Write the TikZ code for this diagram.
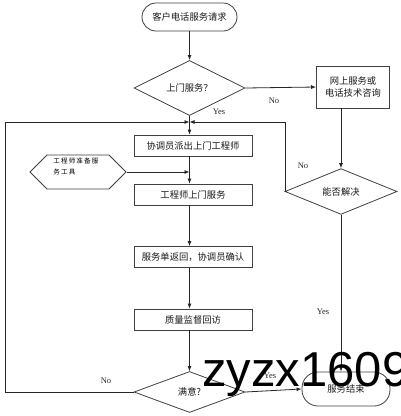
\documentclass[tikz,border=0pt]{standalone}
\usepackage{fontspec}
\newfontfamily\cjk{Noto Sans CJK SC}
\newfontfamily\lab{Liberation Serif}
\newfontfamily\wm{Liberation Sans}
\usetikzlibrary{shapes.geometric,shapes.symbols,arrows.meta}
\begin{document}
\begin{tikzpicture}[x=1pt,y=-1pt,
  line width=0.8pt,
  every node/.style={inner sep=0pt},
  ln/.style={draw=black!85},
  arr/.style={ln,-{Latex[length=5pt,width=4pt]}},
  txt/.style={font=\cjk\fontsize{9.3}{11.5}\selectfont, text=black!90},
  term/.style={txt,draw=black!75,rectangle,minimum width=95pt,minimum height=28pt,rounded corners=14pt},
  procbox/.style={txt,draw=black!75,rectangle,minimum width=118pt,minimum height=21pt},
  decis/.style={txt,draw=black!75,diamond,minimum width=111pt,minimum height=41pt},
  yn/.style={font=\lab\fontsize{8.5}{10}\selectfont, text=black!85}
]
\useasboundingbox (0,0) rectangle (400,416);
\fill[white] (0,0) rectangle (400,416);

\node[term] (start) at (189.5,17) {客户电话服务请求};
\node[decis] (d1) at (189.5,88) {上门服务？};
\node[txt,draw=black!75,minimum width=73pt,minimum height=42pt,align=center] (net) at (353,87) {网上服务或\\电话技术咨询};
\node[procbox] (b1) at (193,145.5) {协调员派出上门工程师};
\node[draw=black!75,signal,signal to=west and east,signal pointer angle=90,minimum width=96pt,minimum height=34pt] (hex) at (78,172) {};
\node[font=\cjk\fontsize{6.6}{11}\selectfont,align=left,anchor=north west] (hext) at (53,157.5) {工\,程\,师\,准\,备\,服\\务\,工\,具};
\node[procbox] (b2) at (193,194.5) {工程师上门服务};
\node[procbox] (b3) at (193,257) {服务单返回，协调员确认};
\node[procbox] (b4) at (193,319.5) {质量监督回访};
\node[decis] (d3) at (189.5,392) {满意?};
\node[decis,minimum width=112pt] (d2) at (341,191.5) {能否解决};
\node[term,minimum width=88pt,minimum height=34pt,rounded corners=16pt] (end) at (346,389) {服务结束};

\coordinate (J) at (189.5,122);
\coordinate (L1) at (5,392);
\coordinate (L2) at (5,122);
\coordinate (R1) at (285,191.5);
\coordinate (R2) at (285,122);

\draw[arr] (start) -- (d1);
\draw[arr] (d1.east) -- (net.west);
\draw[ln] (d1.south) -- (J);
\draw[arr] (J) -- (J |- b1.north);
\draw[arr] (L1) -- (L2) -- (J);
\draw[ln] (d3.west) -- (L1);
\draw[ln] (d2.west) -- (R1) -- (R2);
\draw[arr] (R2) -- (J);
\draw[arr] (d2.north |- net.south) -- (d2.north);
\draw[arr] (d2.south) -- (d2.south |- end.north);
\draw[arr] (J |- b1.south) -- (J |- b2.north);
\draw[arr] (hex.east) -- (hex.east -| J);
\draw[arr] (J |- b2.south) -- (J |- b3.north);
\draw[arr] (J |- b3.south) -- (J |- b4.north);
\draw[arr] (J |- b4.south) -- (d3.north);
\draw[arr] (d3.east) -- (end.west);

\node[yn] (no1) at (274,101) {No};
\node[yn] (yes1) at (219,112) {Yes};
\node[yn] (no2) at (303,166) {No};
\node[yn] (yes2) at (323,312) {Yes};
\node[yn] (yes3) at (270,376) {Yes};
\node[yn] (no3) at (106,381) {No};

\node[font=\wm\fontsize{49}{50}\selectfont,anchor=base west,text=black] (wmk) at (202,386) {zyzx1609};
\end{tikzpicture}
\end{document}
